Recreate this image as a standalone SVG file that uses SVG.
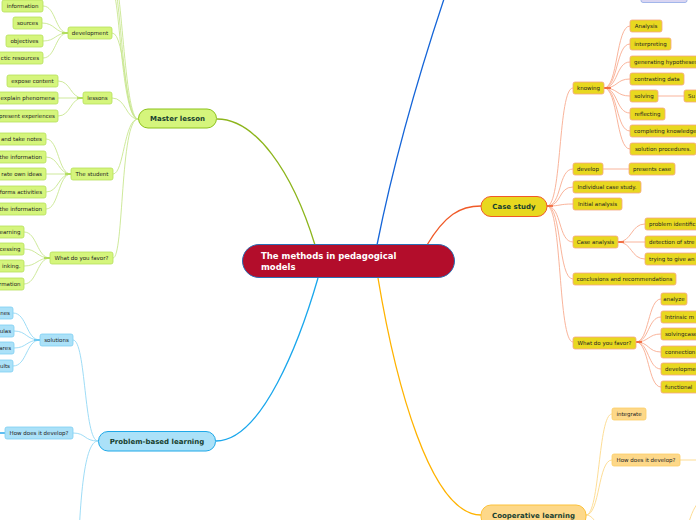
<svg xmlns="http://www.w3.org/2000/svg" width="696" height="520" viewBox="0 0 696 520">
<style>
text{font-family:"DejaVu Sans","Liberation Sans",sans-serif;}
.s{font-size:5.5px;fill:#222;}
.c{text-anchor:middle;}
.e{text-anchor:end;}
.m{font-size:7px;font-weight:bold;fill:#17402f;text-anchor:middle;}
.g{fill:#d5f57c;stroke:#b6e05c;stroke-width:0.8;}
.b{fill:#abe1f8;stroke:#7fcff2;stroke-width:0.8;}
.y{fill:#e8d81f;stroke:#f6a683;stroke-width:0.8;}
.o{fill:#fdd889;stroke:#fcce66;stroke-width:0.8;}
.lg{fill:none;stroke:#c8e690;stroke-width:0.9;}
.lb{fill:none;stroke:#93d8f5;stroke-width:0.9;}
.ly{fill:none;stroke:#f8ab90;stroke-width:0.9;}
.lo{fill:none;stroke:#fdd98a;stroke-width:0.9;}
</style>
<rect width="696" height="520" fill="#fff"/>
<g id="connectors">
<path d="M315,245 C292,170 255,119 217,119" fill="none" stroke="#8db51c" stroke-width="1.3"/>
<path d="M377,245 C390,180 410,100 447,-10" fill="none" stroke="#1565d8" stroke-width="1.3"/>
<path d="M427,245 C445,215 460,206 481,206" fill="none" stroke="#f05a28" stroke-width="1.3"/>
<path d="M318,278 C300,340 262,441 216,441" fill="none" stroke="#1aa7ec" stroke-width="1.3"/>
<path d="M378,278 C395,380 430,515 481,515" fill="none" stroke="#ffb300" stroke-width="1.3"/>
<path class="lg" d="M112,-30 C122,-30 124,119 138,119"/>
<path class="lg" d="M112,-20 C121,-20 122,119 138,119"/>
<path class="lg" d="M112,-10 C120,-10 121,119 138,119"/>
<path class="lg" d="M112,33 C126,33 124,119 138,119"/>
<path class="lg" d="M112,98 C126,98 126,119 138,119"/>
<path class="lg" d="M113,174 C124,174 124,119 138,119"/>
<path class="lg" d="M113,258 C124,258 120,119 138,119"/>
<path class="lg" d="M43,6 C56,6 55,33 68,33"/>
<path class="lg" d="M42,23 C55,23 55,33 68,33"/>
<path class="lg" d="M43,41 C56,41 55,33 68,33"/>
<path class="lg" d="M43,58 C56,58 55,33 68,33"/>
<path d="M62,33 H68" stroke="#a8d84a" stroke-width="1.5"/>
<path class="lg" d="M58,81 C71,81 70,98 83,98"/>
<path class="lg" d="M58,98 H83"/>
<path class="lg" d="M58,116 C71,116 70,98 83,98"/>
<path d="M77,98 H83" stroke="#a8d84a" stroke-width="1.5"/>
<path class="lg" d="M46,139 C59,139 58,174 71,174"/>
<path class="lg" d="M46,157 C59,157 58,174 71,174"/>
<path class="lg" d="M46,174 H71"/>
<path class="lg" d="M46,192 C59,192 58,174 71,174"/>
<path class="lg" d="M46,209 C59,209 58,174 71,174"/>
<path d="M65,174 H71" stroke="#a8d84a" stroke-width="1.5"/>
<path class="lg" d="M24,232 C37,232 37,258 50,258"/>
<path class="lg" d="M24,249 C37,249 37,258 50,258"/>
<path class="lg" d="M24,266 C37,266 37,258 50,258"/>
<path class="lg" d="M24,284 C37,284 37,258 50,258"/>
<path d="M44,258 H50" stroke="#a8d84a" stroke-width="1.5"/>
<path class="lb" d="M73,340 C86,340 84,441 98,441"/>
<path class="lb" d="M73,433 C86,433 84,441 98,441"/>
<path class="lb" d="M98,441 C84,441 80,500 78,560"/>
<path class="lb" d="M13,313 C27,313 26,340 40,340"/>
<path class="lb" d="M14,331 C27,331 26,340 40,340"/>
<path class="lb" d="M14,348 C27,348 26,340 40,340"/>
<path class="lb" d="M13,366 C27,366 26,340 40,340"/>
<path d="M34,340 H40" stroke="#5cc3f0" stroke-width="1.5"/>
<path d="M-5,433 H5" stroke="#2aa9ec" stroke-width="1.5"/>
<path class="ly" d="M547,206 C562,206 558,88 573,88"/>
<path class="ly" d="M547,206 C562,206 558,169 573,169"/>
<path class="ly" d="M547,206 C562,206 558,187 573,187"/>
<path class="ly" d="M547,206 C562,206 558,204 573,204"/>
<path class="ly" d="M547,206 C562,206 558,242 573,242"/>
<path class="ly" d="M547,206 C562,206 558,279 573,279"/>
<path class="ly" d="M547,206 C562,206 558,342 573,342"/>
<path d="M547,206 H553" stroke="#f05a28" stroke-width="1.5"/>
<path class="ly" d="M604,88 C618,88 616,26 630,26"/>
<path class="ly" d="M604,88 C618,88 616,44 630,44"/>
<path class="ly" d="M604,88 C618,88 616,62 630,62"/>
<path class="ly" d="M604,88 C618,88 616,79 630,79"/>
<path class="ly" d="M604,88 C618,88 616,96 630,96"/>
<path class="ly" d="M604,88 C618,88 616,113 630,113"/>
<path class="ly" d="M604,88 C618,88 616,131 630,131"/>
<path class="ly" d="M604,88 C618,88 616,149 630,149"/>
<path d="M604,88 H611" stroke="#f05a28" stroke-width="1.5"/>
<path class="ly" d="M658,96 H684"/>
<path class="ly" d="M603,169 H629"/>
<path class="ly" d="M618,242 C632,242 631,224 645,224"/>
<path class="ly" d="M618,242 H645"/>
<path class="ly" d="M618,242 C632,242 631,259 645,259"/>
<path d="M618,242 H624" stroke="#f05a28" stroke-width="1.5"/>
<path class="ly" d="M636,342 C649,342 648,299 661,299"/>
<path class="ly" d="M636,342 C649,342 648,317 661,317"/>
<path class="ly" d="M636,342 C649,342 648,334 661,334"/>
<path class="ly" d="M636,342 C649,342 648,352 661,352"/>
<path class="ly" d="M636,342 C649,342 648,369 661,369"/>
<path class="ly" d="M636,342 C649,342 648,387 661,387"/>
<path d="M636,342 H642" stroke="#f05a28" stroke-width="1.5"/>
<path class="lo" d="M586,515 C600,515 598,414 612,414"/>
<path class="lo" d="M586,515 C600,515 598,460 612,460"/>
<path class="lo" d="M586,515 C598,515 600,540 612,560"/>
<path class="lo" d="M680,460 H700"/>
<path class="lo" d="M688,525 C692,512 694,508 700,500"/>
</g>
<g id="n-central">
<rect x="242.5" y="244.5" width="212" height="33" rx="16.5" fill="#b30d2b" stroke="#2a6fb5" stroke-width="1"/>
<text x="261" y="258.5" font-size="8.5" font-weight="bold" fill="#fff">The methods in pedagogical</text>
<text x="261" y="269.5" font-size="8.5" font-weight="bold" fill="#fff">models</text>
</g>
<g id="n-master">
<rect x="138.5" y="109" width="78" height="19" rx="9.5" fill="#d5f57c" stroke="#8cc21a" stroke-width="1"/>
<text class="m" x="177.5" y="121">Master lesson</text>
</g>
<g id="n-case">
<rect x="481" y="196.5" width="66" height="20" rx="10" fill="#e8d81f" stroke="#f05a28" stroke-width="1"/>
<text class="m" x="514" y="209">Case study</text>
</g>
<g id="n-pbl">
<rect x="98.5" y="431.5" width="117" height="19.5" rx="9.5" fill="#abe1f8" stroke="#1ea8e8" stroke-width="1"/>
<text class="m" x="157" y="443.5">Problem-based learning</text>
</g>
<g id="n-coop">
<rect x="481" y="505" width="105" height="22" rx="10" fill="#fdd889" stroke="#fcc23c" stroke-width="1"/>
<text class="m" x="533.5" y="518">Cooperative learning</text>
</g>
<g id="n-top-box"><rect x="641" y="-10" width="46" height="12.5" rx="2" fill="#d9d5f2" stroke="#8fa8e6" stroke-width="0.8"/></g>
<g id="n-information"><rect class="g" x="2" y="0" width="41" height="12" rx="2"/><text class="s c" x="22.5" y="8">information</text></g>
<g id="n-sources"><rect class="g" x="13" y="17" width="29" height="12" rx="2"/><text class="s c" x="27.5" y="25">sources</text></g>
<g id="n-objectives"><rect class="g" x="6" y="35" width="37" height="12" rx="2"/><text class="s c" x="24.5" y="43">objectives</text></g>
<g id="n-didactic"><rect class="g" x="-20" y="52" width="63" height="12" rx="2"/><text class="s e" x="39" y="60">ctic resources</text></g>
<g id="n-development"><rect class="g" x="68" y="27" width="44" height="12" rx="2"/><text class="s c" x="90" y="35">development</text></g>
<g id="n-expose"><rect class="g" x="7" y="75" width="51" height="12" rx="2"/><text class="s c" x="32.5" y="83">expose content</text></g>
<g id="n-explain"><rect class="g" x="-10" y="92" width="68" height="12" rx="2"/><text class="s e" x="55" y="100">explain phenomena</text></g>
<g id="n-present"><rect class="g" x="-10" y="110" width="68" height="12" rx="2"/><text class="s e" x="55" y="118">present experiences</text></g>
<g id="n-lessons"><rect class="g" x="83" y="92" width="29" height="12" rx="2"/><text class="s c" x="97.5" y="100">lessons</text></g>
<g id="n-notes"><rect class="g" x="-10" y="133" width="56" height="12" rx="2"/><text class="s e" x="42" y="141">and take notes</text></g>
<g id="n-info1"><rect class="g" x="-10" y="151" width="56" height="12" rx="2"/><text class="s e" x="42" y="159">the information</text></g>
<g id="n-ideas"><rect class="g" x="-10" y="168" width="56" height="12" rx="2"/><text class="s e" x="42" y="176">rate own ideas</text></g>
<g id="n-activities"><rect class="g" x="-10" y="186" width="56" height="12" rx="2"/><text class="s e" x="42" y="194">forms activities</text></g>
<g id="n-info2"><rect class="g" x="-10" y="203" width="56" height="12" rx="2"/><text class="s e" x="42" y="211">the information</text></g>
<g id="n-student"><rect class="g" x="71" y="168" width="42" height="12" rx="2"/><text class="s c" x="92" y="176">The student</text></g>
<g id="n-learning"><rect class="g" x="-10" y="226" width="34" height="12" rx="2"/><text class="s e" x="20.5" y="234">earning</text></g>
<g id="n-processing"><rect class="g" x="-10" y="243" width="34" height="12" rx="2"/><text class="s e" x="20.5" y="251">cessing</text></g>
<g id="n-thinking"><rect class="g" x="-10" y="260" width="34" height="12" rx="2"/><text class="s e" x="20.5" y="268">inking.</text></g>
<g id="n-formation"><rect class="g" x="-10" y="278" width="34" height="12" rx="2"/><text class="s e" x="20.5" y="286">rmation</text></g>
<g id="n-favor-g"><rect class="g" x="50" y="252" width="63" height="12" rx="2"/><text class="s c" x="81.5" y="260">What do you favor?</text></g>
<g id="n-nes"><rect class="b" x="-10" y="307" width="23" height="12" rx="2"/><text class="s e" x="10" y="315">nes</text></g>
<g id="n-ulas"><rect class="b" x="-10" y="325" width="24" height="12" rx="2"/><text class="s e" x="11" y="333">ulas</text></g>
<g id="n-ares"><rect class="b" x="-10" y="342" width="24" height="12" rx="2"/><text class="s e" x="11" y="350">ares</text></g>
<g id="n-ults"><rect class="b" x="-10" y="360" width="23" height="12" rx="2"/><text class="s e" x="10" y="368">ults</text></g>
<g id="n-solutions"><rect class="b" x="40" y="334" width="33" height="12" rx="2"/><text class="s c" x="56.5" y="342">solutions</text></g>
<g id="n-how-b"><rect class="b" x="5" y="427" width="68" height="12" rx="2"/><text class="s c" x="39" y="435">How does it develop?</text></g>
<g id="n-knowing"><rect class="y" x="573" y="82" width="31" height="12" rx="2"/><text class="s c" x="588.5" y="90">knowing</text></g>
<g id="n-analysis"><rect class="y" x="630" y="20" width="32" height="12" rx="2"/><text class="s c" x="646" y="28">Analysis</text></g>
<g id="n-interpreting"><rect class="y" x="630" y="38" width="41" height="12" rx="2"/><text class="s c" x="650.5" y="46">interpreting</text></g>
<g id="n-hypotheses"><rect class="y" x="630" y="56" width="80" height="12" rx="2"/><text class="s" x="634" y="64">generating hypotheses</text></g>
<g id="n-contrasting"><rect class="y" x="630" y="73" width="54" height="12" rx="2"/><text class="s c" x="657" y="81">contrasting data</text></g>
<g id="n-solving"><rect class="y" x="630" y="90" width="28" height="12" rx="2"/><text class="s c" x="644" y="98">solving</text></g>
<g id="n-su"><rect class="y" x="684" y="90" width="30" height="12" rx="2"/><text class="s" x="688" y="98">Su</text></g>
<g id="n-reflecting"><rect class="y" x="630" y="108" width="35" height="12" rx="2"/><text class="s c" x="647.5" y="116">reflecting</text></g>
<g id="n-completing"><rect class="y" x="630" y="125" width="80" height="12" rx="2"/><text class="s" x="634" y="133">completing knowledge</text></g>
<g id="n-procedures"><rect class="y" x="630" y="143" width="66" height="12" rx="2"/><text class="s c" x="663" y="151">solution procedures.</text></g>
<g id="n-develop"><rect class="y" x="573" y="163" width="30" height="12" rx="2"/><text class="s c" x="588" y="171">develop</text></g>
<g id="n-presents"><rect class="y" x="629" y="163" width="46" height="12" rx="2"/><text class="s c" x="652" y="171">presents case</text></g>
<g id="n-individual"><rect class="y" x="573" y="181" width="68" height="12" rx="2"/><text class="s c" x="607" y="189">Individual case study.</text></g>
<g id="n-initial"><rect class="y" x="573" y="198" width="49" height="12" rx="2"/><text class="s c" x="597.5" y="206">Initial analysis</text></g>
<g id="n-caseanalysis"><rect class="y" x="573" y="236" width="45" height="12" rx="2"/><text class="s c" x="595.5" y="244">Case analysis</text></g>
<g id="n-problem"><rect class="y" x="645" y="218" width="60" height="12" rx="2"/><text class="s" x="649" y="226">problem identific</text></g>
<g id="n-detection"><rect class="y" x="645" y="236" width="60" height="12" rx="2"/><text class="s" x="649" y="244">detection of stre</text></g>
<g id="n-trying"><rect class="y" x="645" y="253" width="60" height="12" rx="2"/><text class="s" x="649" y="261">trying to give an</text></g>
<g id="n-conclusions"><rect class="y" x="573" y="273" width="103" height="12" rx="2"/><text class="s c" x="624.5" y="281">conclusions and recommendations</text></g>
<g id="n-favor-y"><rect class="y" x="573" y="337" width="63" height="12" rx="2"/><text class="s c" x="604.5" y="345">What do you favor?</text></g>
<g id="n-analyze"><rect class="y" x="661" y="293" width="26" height="12" rx="2"/><text class="s c" x="674" y="301">analyze</text></g>
<g id="n-intrinsic"><rect class="y" x="661" y="311" width="50" height="12" rx="2"/><text class="s" x="665" y="319">Intrinsic m</text></g>
<g id="n-solvingcase"><rect class="y" x="661" y="328" width="50" height="12" rx="2"/><text class="s" x="665" y="336">solvingcase</text></g>
<g id="n-connection"><rect class="y" x="661" y="346" width="50" height="12" rx="2"/><text class="s" x="665" y="354">connection</text></g>
<g id="n-developme"><rect class="y" x="661" y="363" width="50" height="12" rx="2"/><text class="s" x="665" y="371">developme</text></g>
<g id="n-functional"><rect class="y" x="661" y="381" width="50" height="12" rx="2"/><text class="s" x="665" y="389">functional</text></g>
<g id="n-integrate"><rect class="o" x="612" y="408" width="34" height="12" rx="2"/><text class="s c" x="629" y="416">integrate</text></g>
<g id="n-how-o"><rect class="o" x="612" y="454" width="68" height="12" rx="2"/><text class="s c" x="646" y="462">How does it develop?</text></g>
</svg>
